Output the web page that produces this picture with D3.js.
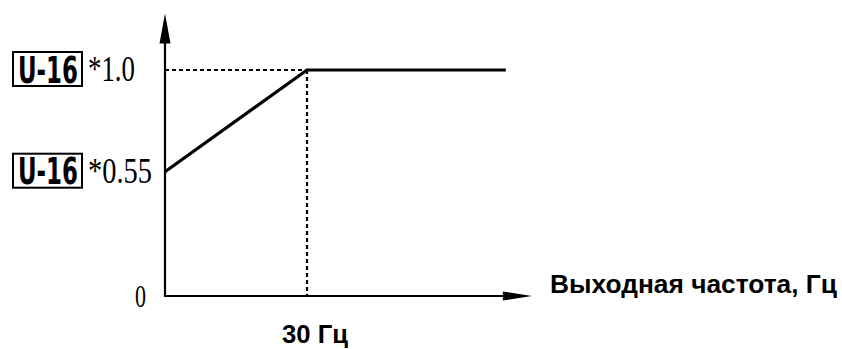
<!DOCTYPE html>
<html>
<head>
<meta charset="utf-8">
<script src="https://cdn.jsdelivr.net/npm/d3@7"></script>
<style>
  html, body { margin: 0; padding: 0; background: #fff; }
  svg { display: block; }
</style>
</head>
<body>
<svg id="chart" width="842" height="349"></svg>
<script>
// V/f curve: output voltage ratio versus output frequency
const freqHz = [0, 30, 72];
const voltRatio = [0.55, 1.0, 1.0];
const kneeHz = 30;
const yLevels = [0.55, 1.0];
const yLevelLabels = ["*0.55", "*1.0"];
const paramCode = "U-16";
const zeroLabel = "0";
const kneeLabel = "30 Гц";
const xAxisTitle = "Выходная частота, Гц";
const xAxisMax = 77.5;
const yAxisMax = 1.25;

const svg = d3.select("#chart");
const x = d3.scaleLinear().domain([0, kneeHz]).range([165, 307]);
const y = d3.scaleLinear().domain([0, 1]).range([296, 70]);

const ink = "#000";
const serif = "'Liberation Serif', 'Times New Roman', serif";
const sans = "'Liberation Sans', Arial, sans-serif";

// place a text at (x0, baseline) and stretch it horizontally to a given width
function fitText(str, x0, baseline, width, size, family, weight, uniform) {
  const g = svg.append("g");
  const t = g.append("text")
    .attr("x", 0).attr("y", 0)
    .attr("font-family", family)
    .attr("font-weight", weight || "normal")
    .attr("font-size", size)
    .attr("fill", ink)
    .text(str);
  const w = t.node().getComputedTextLength();
  const sx = width / w;
  const sy = uniform ? sx : 1;
  g.attr("transform", `translate(${x0},${baseline}) scale(${sx},${sy})`);
  return g;
}

// axes with arrowheads
svg.append("line")
  .attr("x1", x(0)).attr("y1", y(0))
  .attr("x2", x(0)).attr("y2", y(yAxisMax) + 25)
  .attr("stroke", ink).attr("stroke-width", 2.2);
svg.append("path")
  .attr("d", `M${x(0)},${y(yAxisMax)} L${x(0) - 5.5},${y(yAxisMax) + 30} L${x(0) + 5.5},${y(yAxisMax) + 30} Z`)
  .attr("fill", ink);

svg.append("line")
  .attr("x1", x(0) - 1.1).attr("y1", y(0))
  .attr("x2", x(xAxisMax) - 25).attr("y2", y(0))
  .attr("stroke", ink).attr("stroke-width", 2.2);
svg.append("path")
  .attr("d", `M${x(xAxisMax)},${y(0)} L${x(xAxisMax) - 29},${y(0) - 4.5} L${x(xAxisMax) - 29},${y(0) + 4.5} Z`)
  .attr("fill", ink);

// dotted guides to the knee point
const dash = "4,3";
svg.append("line")
  .attr("x1", x(0)).attr("y1", y(1))
  .attr("x2", x(kneeHz)).attr("y2", y(1))
  .attr("stroke", ink).attr("stroke-width", 2.2).attr("stroke-dasharray", dash);
svg.append("line")
  .attr("x1", x(kneeHz)).attr("y1", y(1))
  .attr("x2", x(kneeHz)).attr("y2", y(0))
  .attr("stroke", ink).attr("stroke-width", 2.2).attr("stroke-dasharray", dash);

// the V/f characteristic
const pts = freqHz.map((f, i) => [f, voltRatio[i]]);
svg.append("path")
  .datum(pts)
  .attr("d", d3.line().x(d => x(d[0])).y(d => y(d[1])))
  .attr("fill", "none")
  .attr("stroke", ink)
  .attr("stroke-width", 3.2)
  .attr("stroke-linejoin", "miter");

// y-level labels: boxed parameter code followed by multiplier
yLevels.forEach((v, i) => {
  const cy = y(v);
  svg.append("rect")
    .attr("x", 13).attr("y", cy - 18)
    .attr("width", 69).attr("height", 34)
    .attr("fill", "#fff").attr("stroke", ink).attr("stroke-width", 2);
  fitText(paramCode, 18, cy + 12.5, 60, 37, "'DejaVu Sans', sans-serif", "bold");
  const lbl = yLevelLabels[i];
  fitText(lbl, 88, cy + 11, lbl.length === 4 ? 47 : 64, 35, serif);
});

fitText(zeroLabel, 135, y(0) + 11, 11, 32, serif);

// x-axis texts
fitText(kneeLabel, 282, 343, 66, 20, sans, "bold", true);
fitText(xAxisTitle, 550, 293, 287, 20, sans, "bold", true);
</script>
</body>
</html>
